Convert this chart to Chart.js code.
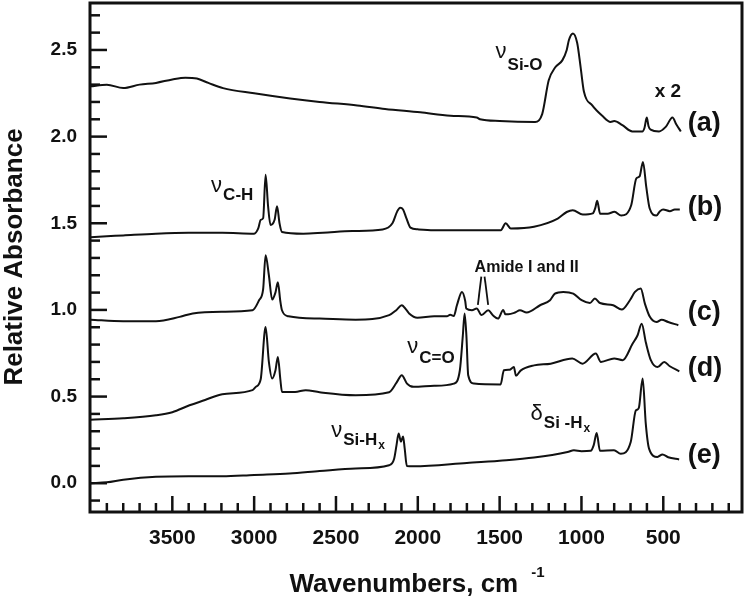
<!DOCTYPE html>
<html>
<head>
<meta charset="utf-8">
<script src="https://cdn.jsdelivr.net/npm/chart.js@4.4.1/dist/chart.umd.min.js"></script>
<style>
  html, body { margin: 0; padding: 0; background: #fff; }
  #wrap { width: 748px; height: 597px; }
</style>
</head>
<body>
<div id="wrap"><canvas id="ftir" width="748" height="597"></canvas></div>
<script>
// traces: wavenumber (cm-1) and relative absorbance
const waveA = [4000, 3900, 3800, 3700, 3600, 3500, 3420, 3350, 3280, 3190, 3000, 2780, 2600, 2370, 2200, 1985, 1800, 1640, 1620, 1500, 1283, 1240, 1200, 1160, 1117, 1090, 1077, 1052, 1026, 1005, 985, 934, 873, 822, 800, 750, 689, 628, 615, 601, 590, 577, 526, 485, 444, 420, 393];
const absA  = [2.29, 2.30, 2.28, 2.30, 2.31, 2.33, 2.34, 2.335, 2.31, 2.28, 2.25, 2.22, 2.20, 2.18, 2.16, 2.14, 2.12, 2.11, 2.10, 2.09, 2.085, 2.13, 2.325, 2.40, 2.44, 2.50, 2.556, 2.595, 2.54, 2.40, 2.26, 2.18, 2.12, 2.085, 2.09, 2.066, 2.03, 2.03, 2.05, 2.11, 2.06, 2.04, 2.03, 2.056, 2.11, 2.07, 2.03];

const waveB = [4000, 3900, 3800, 3600, 3400, 3195, 3000, 2975, 2960, 2945, 2930, 2915, 2900, 2875, 2860, 2845, 2830, 2700, 2580, 2400, 2215, 2155, 2125, 2108, 2090, 2070, 2045, 2000, 1903, 1700, 1493, 1463, 1432, 1290, 1145, 1090, 1053, 992, 931, 915, 904, 886, 840, 798, 757, 696, 665, 645, 624, 604, 583, 542, 520, 501, 460, 430, 399];
const absB  = [1.42, 1.425, 1.43, 1.44, 1.445, 1.445, 1.44, 1.47, 1.52, 1.53, 1.78, 1.60, 1.49, 1.52, 1.598, 1.50, 1.45, 1.44, 1.445, 1.455, 1.464, 1.50, 1.57, 1.59, 1.58, 1.53, 1.475, 1.465, 1.46, 1.46, 1.46, 1.50, 1.47, 1.48, 1.527, 1.565, 1.575, 1.55, 1.557, 1.59, 1.63, 1.555, 1.555, 1.566, 1.545, 1.604, 1.758, 1.77, 1.854, 1.71, 1.585, 1.545, 1.57, 1.58, 1.57, 1.58, 1.58];

const waveC = [4000, 3800, 3600, 3455, 3375, 3195, 3010, 2970, 2945, 2930, 2910, 2890, 2870, 2855, 2840, 2830, 2790, 2600, 2380, 2175, 2130, 2098, 2070, 2053, 2003, 1900, 1822, 1802, 1780, 1761, 1730, 1710, 1704, 1669, 1640, 1610, 1570, 1540, 1510, 1478, 1465, 1447, 1406, 1376, 1335, 1253, 1192, 1162, 1111, 1050, 999, 948, 918, 887, 806, 754, 704, 673, 638, 612, 582, 541, 510, 470, 408];
const absC  = [0.944, 0.935, 0.935, 0.96, 0.98, 0.99, 0.998, 1.056, 1.12, 1.316, 1.20, 1.06, 1.10, 1.16, 1.05, 0.998, 0.963, 0.95, 0.944, 0.97, 1.00, 1.027, 1.00, 0.98, 0.955, 0.963, 0.963, 0.972, 0.965, 1.027, 1.104, 1.05, 1.008, 0.998, 1.008, 0.97, 0.998, 0.968, 0.95, 1.00, 0.975, 0.975, 0.985, 0.998, 0.985, 1.027, 1.056, 1.094, 1.104, 1.094, 1.056, 1.04, 1.066, 1.04, 1.027, 1.002, 1.056, 1.104, 1.123, 1.035, 0.96, 0.93, 0.944, 0.93, 0.912];

const waveD = [4000, 3800, 3600, 3500, 3395, 3300, 3195, 3010, 2990, 2960, 2930, 2910, 2890, 2870, 2855, 2840, 2830, 2750, 2685, 2600, 2380, 2175, 2130, 2098, 2066, 2026, 1900, 1780, 1743, 1725, 1714, 1703, 1692, 1657, 1494, 1474, 1440, 1413, 1400, 1372, 1290, 1188, 1056, 994, 912, 881, 800, 748, 687, 657, 632, 606, 576, 535, 494, 460, 402];
const absD  = [0.367, 0.375, 0.392, 0.41, 0.45, 0.48, 0.514, 0.537, 0.556, 0.60, 0.902, 0.70, 0.604, 0.65, 0.729, 0.60, 0.527, 0.527, 0.537, 0.525, 0.508, 0.525, 0.58, 0.623, 0.575, 0.556, 0.562, 0.575, 0.652, 0.85, 0.98, 0.85, 0.623, 0.575, 0.57, 0.652, 0.655, 0.67, 0.62, 0.65, 0.68, 0.69, 0.72, 0.69, 0.748, 0.70, 0.72, 0.71, 0.806, 0.854, 0.92, 0.81, 0.71, 0.67, 0.70, 0.675, 0.646];

const waveE = [4000, 3900, 3800, 3600, 3400, 3195, 3000, 2785, 2600, 2380, 2175, 2145, 2130, 2117, 2103, 2090, 2080, 2067, 2026, 1700, 1500, 1290, 1085, 1046, 1000, 944, 925, 907, 887, 801, 760, 699, 668, 658, 648, 626, 607, 587, 536, 505, 470, 403];
const absE  = [0.0, 0.005, 0.02, 0.037, 0.04, 0.04, 0.048, 0.056, 0.07, 0.085, 0.104, 0.14, 0.22, 0.287, 0.24, 0.27, 0.20, 0.10, 0.098, 0.117, 0.13, 0.148, 0.18, 0.19, 0.185, 0.187, 0.22, 0.29, 0.187, 0.19, 0.17, 0.238, 0.42, 0.425, 0.44, 0.604, 0.344, 0.20, 0.152, 0.166, 0.15, 0.137];

const xTickLabels = [3500, 3000, 2500, 2000, 1500, 1000, 500];
const yTickLabels = [0.0, 0.5, 1.0, 1.5, 2.0, 2.5];
const traceNames = ['(a)', '(b)', '(c)', '(d)', '(e)'];
const traceNameLevel = [2.073, 1.591, 0.983, 0.659, 0.158];

// band assignments: symbol, subscript, anchor (wavenumber, absorbance)
const bands = [
    { sym: 'ν', sub: 'Si-O', idx: '', wn: 1525, y: 2.454, dy: 12 },
    { sym: 'ν', sub: 'C-H', idx: '', wn: 3263, y: 1.681, dy: 8 },
    { sym: 'ν', sub: 'C=O', idx: '', wn: 2064, y: 0.752, dy: 10 },
    { sym: 'ν', sub: 'Si-H', idx: 'x', wn: 2529, y: 0.267, dy: 8 },
    { sym: 'δ', sub: 'Si -H', idx: 'x', wn: 1311, y: 0.365, dy: 8 }
];

const FONT = "'Liberation Sans', Arial, Helvetica, sans-serif";
const INK = '#111';

const traces = [[waveA, absA], [waveB, absB], [waveC, absC], [waveD, absD], [waveE, absE]]
    .map(([w, a]) => ({
        data: w.map((x, i) => ({ x: x, y: a[i] })),
        borderColor: INK,
        borderWidth: 2,
        pointRadius: 0,
        fill: false,
        cubicInterpolationMode: 'monotone'
    }));

const decor = {
    id: 'decor',
    afterDatasetsDraw(chart) {
        const { ctx, chartArea: ca, scales: { x, y } } = chart;
        ctx.save();
        ctx.strokeStyle = INK;
        ctx.fillStyle = INK;

        // inward ticks
        ctx.lineWidth = 2.5;
        for (let v = 100; v <= 4000; v += 100) {
            const px = x.getPixelForValue(v);
            if (px < ca.left + 2 || px > ca.right - 2) continue;
            const len = v % 500 === 0 ? 16 : 9;
            ctx.beginPath();
            ctx.moveTo(px, ca.bottom);
            ctx.lineTo(px, ca.bottom - len);
            ctx.stroke();
        }
        for (let k = -1; k <= 27; k++) {
            const py = y.getPixelForValue(k / 10);
            const len = k % 5 === 0 ? 17 : 10;
            ctx.beginPath();
            ctx.moveTo(ca.left, py);
            ctx.lineTo(ca.left + len, py);
            ctx.stroke();
        }

        // frame
        ctx.lineWidth = 3;
        ctx.strokeRect(ca.left, ca.top, ca.right - ca.left, ca.bottom - ca.top);

        // trace names
        ctx.font = 'bold 27px ' + FONT;
        ctx.textAlign = 'left';
        ctx.textBaseline = 'middle';
        traceNames.forEach((t, i) => {
            ctx.fillText(t, x.getPixelForValue(350), y.getPixelForValue(traceNameLevel[i]));
        });

        // band labels
        ctx.textBaseline = 'alphabetic';
        bands.forEach(b => {
            const bx = x.getPixelForValue(b.wn);
            const by = y.getPixelForValue(b.y);
            ctx.font = '22px ' + FONT;
            ctx.fillText(b.sym, bx, by);
            const sx = bx + ctx.measureText(b.sym).width + 1;
            ctx.font = 'bold 17px ' + FONT;
            ctx.fillText(b.sub, sx, by + b.dy);
            if (b.idx) {
                const ix = sx + ctx.measureText(b.sub).width + 1;
                ctx.font = 'bold 12px ' + FONT;
                ctx.fillText(b.idx, ix, by + b.dy + 4);
            }
        });

        // scale factor on trace (a)
        ctx.font = 'bold 19px ' + FONT;
        ctx.textAlign = 'center';
        ctx.fillText('x 2', x.getPixelForValue(472), y.getPixelForValue(2.229));

        // amide bands with pointer lines
        ctx.font = 'bold 16px ' + FONT;
        ctx.fillText('Amide I and II', x.getPixelForValue(1335), y.getPixelForValue(1.219));
        ctx.lineWidth = 1.8;
        [[1612, 1633], [1592, 1570]].forEach(([top, bottom]) => {
            ctx.beginPath();
            ctx.moveTo(x.getPixelForValue(top), y.getPixelForValue(1.192));
            ctx.lineTo(x.getPixelForValue(bottom), y.getPixelForValue(1.029));
            ctx.stroke();
        });

        // axis titles
        ctx.font = 'bold 26px ' + FONT;
        ctx.textAlign = 'center';
        ctx.textBaseline = 'middle';
        ctx.save();
        ctx.translate(15, 257);
        ctx.rotate(-Math.PI / 2);
        ctx.fillText('Relative Absorbance', 0, 0);
        ctx.restore();

        ctx.textAlign = 'left';
        ctx.textBaseline = 'alphabetic';
        ctx.font = 'bold 26px ' + FONT;
        const main = 'Wavenumbers, cm';
        const mainW = ctx.measureText(main).width;
        ctx.font = 'bold 15px ' + FONT;
        const supW = ctx.measureText('-1').width;
        const start = 417 - (mainW + 13 + supW) / 2;
        ctx.font = 'bold 26px ' + FONT;
        ctx.fillText(main, start, 592);
        ctx.font = 'bold 15px ' + FONT;
        ctx.fillText('-1', start + mainW + 13, 577);

        ctx.restore();
    }
};

new Chart(document.getElementById('ftir'), {
    type: 'line',
    data: { datasets: traces },
    options: {
        responsive: false,
        animation: false,
        devicePixelRatio: 1,
        layout: { padding: { top: 3, right: 6, left: 0, bottom: 0 } },
        plugins: { legend: { display: false }, tooltip: { enabled: false } },
        scales: {
            x: {
                type: 'linear',
                reverse: true,
                min: 19,
                max: 4003,
                afterBuildTicks: (s) => { s.ticks = xTickLabels.map(v => ({ value: v })); },
                afterFit: (s) => { s.height = 85; s.paddingLeft = 0; s.paddingRight = 0; },
                grid: { display: false, drawTicks: false },
                border: { display: false },
                ticks: {
                    autoSkip: false,
                    maxRotation: 0,
                    padding: 14,
                    color: INK,
                    font: { family: FONT, size: 21, weight: 'bold' },
                    callback: (v) => String(v)
                }
            },
            y: {
                type: 'linear',
                min: -0.166,
                max: 2.771,
                afterBuildTicks: (s) => { s.ticks = yTickLabels.map(v => ({ value: v })); },
                afterFit: (s) => { s.width = 90; s.paddingTop = 0; s.paddingBottom = 0; },
                grid: { display: false, drawTicks: false },
                border: { display: false },
                ticks: {
                    autoSkip: false,
                    padding: 13,
                    color: INK,
                    font: { family: FONT, size: 19, weight: 'bold' },
                    callback: (v) => v.toFixed(1)
                }
            }
        }
    },
    plugins: [decor]
});
</script>
</body>
</html>
